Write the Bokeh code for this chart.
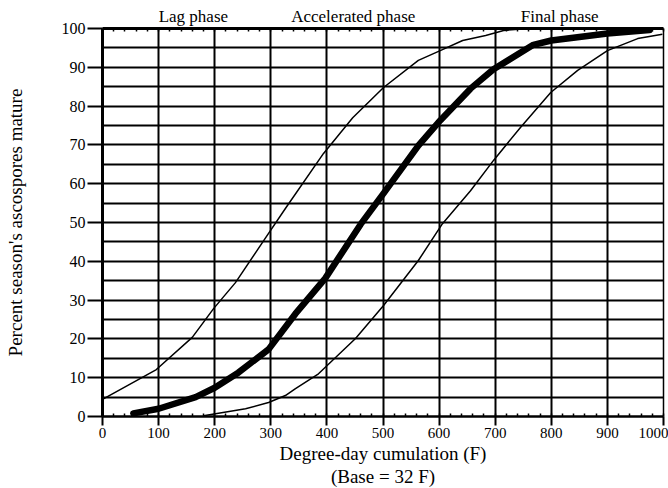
from bokeh.plotting import figure
from bokeh.models import LinearAxis, FixedTicker, Range1d, Title
from bokeh.embed import file_html
from bokeh.resources import INLINE

# ---- data ----
early_x = [0, 96, 160, 198, 237, 296, 326, 394, 446, 501, 563, 602, 642, 683, 715, 760]
early_y = [4.4, 12.1, 20.4, 27.8, 34.5, 47.2, 53.6, 67.8, 77.0, 84.8, 91.8, 94.3, 96.9, 98.2, 99.5, 100]

mean_x = [55, 100, 166, 200, 242, 296, 344, 397, 460, 501, 563, 602, 656, 697, 768, 800, 900, 975]
mean_y = [0.8, 2.0, 5.0, 7.4, 11.3, 17.3, 26.5, 35.6, 49.5, 57.5, 69.8, 76.3, 84.5, 89.5, 95.8, 96.9, 98.7, 99.6]

late_x = [180, 255, 296, 326, 344, 385, 451, 501, 563, 606, 656, 697, 745, 799, 847, 900, 954, 998]
late_y = [0.2, 2.0, 3.6, 5.4, 7.2, 11.0, 20.1, 28.6, 40.2, 49.7, 58.2, 66.0, 74.5, 83.5, 89.2, 94.3, 97.4, 98.5]

x_ticks = list(range(0, 1001, 100))
x_minor = list(range(0, 1001, 20))
y_ticks = list(range(0, 101, 10))
y_grid = list(range(0, 101, 5))

phases = ["Lag phase", "Accelerated phase", "Final phase"]
phase_x = [162, 447, 815]

FONT = "Liberation Serif"

p = figure(width=668, height=488, x_range=Range1d(0, 1000), y_range=Range1d(0, 100),
           output_backend="svg", toolbar_location=None,
           min_border_left=102, min_border_right=5, min_border_top=28, min_border_bottom=72,
           x_axis_location=None, y_axis_location=None)
p.outline_line_color = None
p.background_fill_color = "white"
p.border_fill_color = "white"

# grid
p.xgrid.ticker = FixedTicker(ticks=x_ticks)
p.ygrid.ticker = FixedTicker(ticks=y_grid)
for g in (p.xgrid, p.ygrid):
    g.grid_line_color = "black"
    g.grid_line_width = 2
    g.grid_line_alpha = 1

# left axis
ax_l = LinearAxis(ticker=FixedTicker(ticks=y_ticks))
ax_l.axis_line_width = 3
ax_l.major_tick_out = 15
ax_l.major_tick_in = 0
ax_l.major_tick_line_width = 2
ax_l.minor_tick_line_color = None
ax_l.major_label_standoff = 2
ax_l.major_label_text_font = FONT
ax_l.major_label_text_font_size = "16px"
ax_l.major_label_text_color = "black"
ax_l.axis_label = "Percent season's ascospores mature"
ax_l.axis_label_text_font = FONT
ax_l.axis_label_text_font_size = "19px"
ax_l.axis_label_text_font_style = "normal"
ax_l.axis_label_text_color = "black"
ax_l.axis_label_standoff = 33
p.add_layout(ax_l, "left")

# bottom axis
ax_b = LinearAxis(ticker=FixedTicker(ticks=x_ticks, minor_ticks=x_minor))
ax_b.axis_line_width = 2.5
ax_b.major_tick_out = 9
ax_b.major_tick_in = 0
ax_b.major_tick_line_width = 2
ax_b.minor_tick_in = 3
ax_b.minor_tick_out = 0
ax_b.minor_tick_line_width = 1.5
ax_b.major_label_standoff = 2
ax_b.major_label_text_font = FONT
ax_b.major_label_text_font_size = "15px"
ax_b.major_label_text_color = "black"
p.add_layout(ax_b, "below")

# x-axis title lines
t1 = Title(text="Degree-day cumulation (F)", align="center", offset=-52,
           text_font=FONT, text_font_size="19px", text_font_style="normal",
           text_color="black", standoff=0)
t2 = Title(text="(Base = 32 F)", align="center", offset=-25,
           text_font=FONT, text_font_size="19px", text_font_style="normal",
           text_color="black", standoff=0)
p.add_layout(t1, "below")
p.add_layout(t2, "below")

# top axis (border, inside minor ticks, phase names)
ax_t = LinearAxis(ticker=FixedTicker(ticks=phase_x, minor_ticks=x_minor))
ax_t.axis_line_width = 3
ax_t.major_tick_line_color = None
ax_t.major_tick_out = 0
ax_t.major_tick_in = 0
ax_t.minor_tick_in = 3
ax_t.minor_tick_out = 0
ax_t.minor_tick_line_width = 1.5
ax_t.major_label_overrides = {x: t for x, t in zip(phase_x, phases)}
ax_t.major_label_text_font = FONT
ax_t.major_label_text_font_size = "17px"
ax_t.major_label_text_color = "black"
ax_t.major_label_standoff = 3
p.add_layout(ax_t, "above")

# right border
ax_r = LinearAxis(ticker=FixedTicker(ticks=[]))
ax_r.axis_line_width = 1.5
ax_r.major_tick_line_color = None
ax_r.minor_tick_line_color = None
ax_r.major_label_text_font_size = "0px"
ax_r.major_label_standoff = 0
p.add_layout(ax_r, "right")

# curves
p.line(early_x, early_y, line_color="black", line_width=1.5)
p.line(late_x, late_y, line_color="black", line_width=1.5)
p.line(mean_x, mean_y, line_color="black", line_width=6.5, line_join="round", line_cap="round")

open("out.html", "w").write(file_html(p, INLINE))
